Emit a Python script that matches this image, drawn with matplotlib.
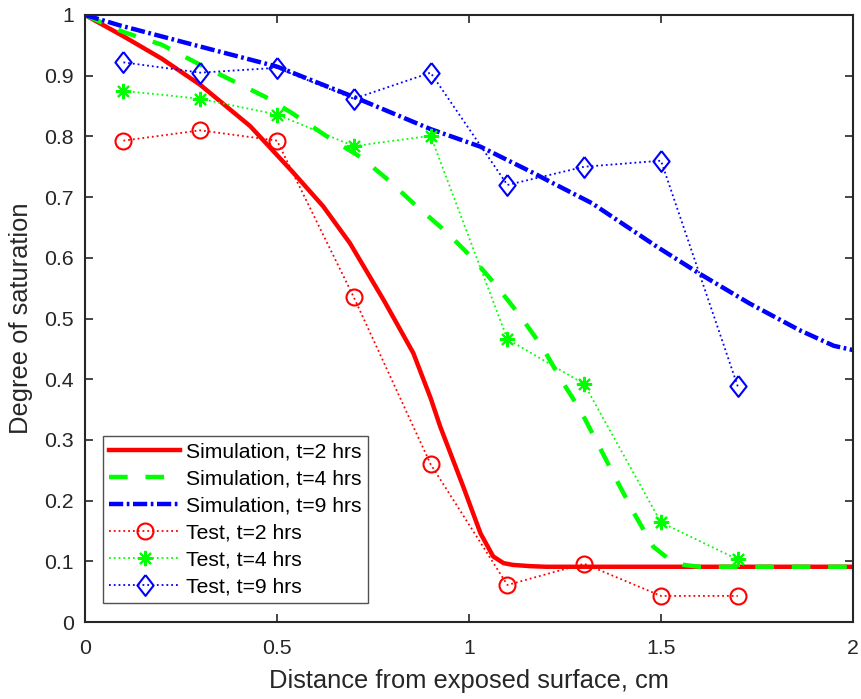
import matplotlib
matplotlib.use('Agg')
import matplotlib.pyplot as plt

plt.rcParams['font.family'] = ['Liberation Sans', 'DejaVu Sans']

# test points
x_test = [0.1, 0.3, 0.5, 0.7, 0.9, 1.1, 1.3, 1.5, 1.7]
test_t2 = [0.793, 0.810, 0.793, 0.535, 0.260, 0.061, 0.096, 0.043, 0.043]
test_t4 = [0.875, 0.862, 0.836, 0.784, 0.801, 0.466, 0.392, 0.164, 0.103]
test_t9 = [0.922, 0.905, 0.913, 0.862, 0.905, 0.720, 0.750, 0.760, 0.388]

# simulation curves
x_sim2 = [0, 0.1, 0.2, 0.3, 0.43, 0.54, 0.62, 0.69, 0.78, 0.855, 0.9, 0.925,
          0.985, 1.03, 1.063, 1.09, 1.115, 1.16, 1.2, 1.5, 2.0]
sim_t2 = [1.0, 0.965, 0.928, 0.885, 0.817, 0.742, 0.685, 0.624, 0.528, 0.443,
          0.369, 0.322, 0.223, 0.146, 0.108, 0.097, 0.094, 0.092, 0.091, 0.091, 0.091]
x_sim4 = [0, 0.1, 0.2, 0.3, 0.47, 0.54, 0.63, 0.72, 0.79, 0.86, 0.94, 1.01,
          1.07, 1.13, 1.19, 1.24, 1.29, 1.38, 1.43, 1.48, 1.52, 1.56, 1.6, 1.65, 2.0]
sim_t4 = [1.0, 0.972, 0.951, 0.918, 0.865, 0.838, 0.800, 0.765, 0.728, 0.687,
          0.643, 0.599, 0.555, 0.507, 0.454, 0.399, 0.349, 0.239, 0.179, 0.124,
          0.104, 0.094, 0.091, 0.091, 0.091]
x_sim9 = [0, 0.09, 0.27, 0.5, 0.7, 0.9, 1.03, 1.17, 1.2, 1.32, 1.49, 1.6,
          1.73, 1.86, 1.95, 2.0]
sim_t9 = [1.0, 0.983, 0.953, 0.915, 0.865, 0.812, 0.783, 0.739, 0.729, 0.690,
          0.618, 0.574, 0.525, 0.481, 0.455, 0.448]

fig = plt.figure(figsize=(8.61, 6.99), dpi=100)
ax = fig.add_axes([85 / 861, 77 / 699, 768 / 861, 607 / 699])

ax.plot(x_sim2, sim_t2, '-', color='#ff0000', lw=3.2, label='Simulation, t=2 hrs')
ax.plot(x_sim4, sim_t4, '--', color='#00ff00', lw=3.2, dashes=(4.2, 4.0),
        label='Simulation, t=4 hrs')
ax.plot(x_sim9, sim_t9, '-.', color='#0000ff', lw=3.2, dashes=(3.2, 0.8, 0.6, 0.8),
        label='Simulation, t=9 hrs')
diamond = [(0, 1), (0.78, 0), (0, -1), (-0.78, 0), (0, 1)]
ax.plot(x_test, test_t2, ':', color='#ff0000', lw=1.3, marker='o', ms=11.5,
        mfc='none', mew=1.5, label='Test, t=2 hrs')
ax.plot(x_test, test_t4, ':', color='#00ff00', lw=1.3, marker=(8, 2, 0), ms=11,
        mew=1.5, label='Test, t=4 hrs')
ax.plot(x_test, test_t9, ':', color='#0000ff', lw=1.3, marker=diamond, ms=15,
        mfc='none', mew=1.5, label='Test, t=9 hrs')

ax.set_xlim(0, 2)
ax.set_ylim(0, 1)
ax.set_xticks([0, 0.5, 1, 1.5, 2])
ax.set_xticklabels(['0', '0.5', '1', '1.5', '2'])
ax.set_yticks([i / 10 for i in range(11)])
ax.set_yticklabels(['0', '0.1', '0.2', '0.3', '0.4', '0.5', '0.6', '0.7', '0.8', '0.9', '1'])
ax.tick_params(direction='in', top=True, right=True, length=6, width=1.2,
               labelsize=15.3, colors='#262626')
ax.tick_params(axis='x', pad=12)
ax.tick_params(axis='y', pad=8)
for s in ax.spines.values():
    s.set_color('#262626')
    s.set_linewidth(1.5)
ax.set_xlabel('Distance from exposed surface, cm', fontsize=18.4, color='#262626',
              labelpad=8)
ax.set_ylabel('Degree of saturation', fontsize=18.4, color='#262626', labelpad=8)

leg = ax.legend(loc='lower left', bbox_to_anchor=(0.0234, 0.031), borderaxespad=0,
                fontsize=15.2, frameon=True, fancybox=False, handlelength=3.36,
                borderpad=0.3, labelspacing=0.38, handletextpad=0.28)
leg.get_frame().set_edgecolor('#262626')
leg.get_frame().set_linewidth(1.0)

fig.savefig('out.png', dpi=100)
